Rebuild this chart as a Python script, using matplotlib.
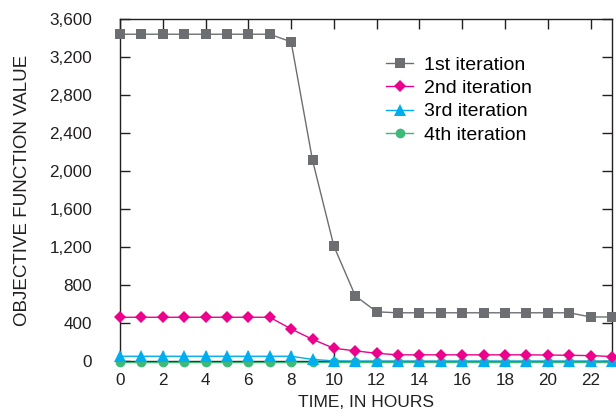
import matplotlib.pyplot as plt
import numpy as np

plt.rcParams["font.family"] = ["Liberation Sans", "DejaVu Sans"]

hours = np.arange(24)
iter1 = [3440, 3440, 3440, 3440, 3440, 3440, 3440, 3440, 3360, 2115, 1212, 690,
         522, 512, 512, 512, 512, 512, 512, 512, 512, 512, 468, 468]
iter2 = [465, 465, 465, 465, 465, 465, 465, 465, 342, 233, 139, 112,
         86, 70, 70, 70, 70, 70, 70, 70, 68, 65, 62, 52]
iter3 = [55, 55, 55, 55, 55, 55, 55, 55, 55, 22, 6, 4,
         4, 4, 4, 4, 4, 4, 4, 4, 4, 4, 4, 4]
iter4 = [-5] * 24
labels = ["1st iteration", "2nd iteration", "3rd iteration", "4th iteration"]

series = [iter1, iter2, iter3, iter4]
colors = ["#6d6e71", "#ec008c", "#00aeef", "#3dba78"]
markers = ["s", "D", "^", "o"]
msizes = [6.5, 6.5, 8, 7]
zorders = [6, 5, 4, 3]

fig = plt.figure(figsize=(6.16, 4.17), dpi=100)
ax = fig.add_axes([0.1948, 0.1331, 0.7987, 0.8213])

for y, c, m, ms, z, lab in zip(series, colors, markers, msizes, zorders, labels):
    ax.plot(hours, y, color=c, marker=m, markersize=ms, linewidth=1.0,
            label=lab, zorder=z, clip_on=False, markeredgewidth=0)

ax.set_xlim(0, 23)
ax.set_ylim(0, 3600)
ax.set_xticks(np.arange(0, 23, 2))
ax.set_yticks(np.arange(0, 3601, 400))
ax.set_yticklabels([f"{v:,}" for v in range(0, 3601, 400)])
ax.tick_params(axis="both", direction="in", length=7, width=1.0, color="#231f20",
               labelsize=12.3, labelcolor="#231f20", top=True, right=True)
ax.tick_params(axis="y", pad=20)
ax.tick_params(axis="x", pad=8)
for s in ax.spines.values():
    s.set_linewidth(1.0)
    s.set_color("#231f20")

ax.set_xlabel("TIME, IN HOURS", fontsize=12.5, color="#231f20", labelpad=5)
ax.set_ylabel("OBJECTIVE FUNCTION VALUE", fontsize=13.5, color="#231f20", labelpad=13)

ax.legend(loc="upper left", bbox_to_anchor=(386 / 616, 1 - 56 / 417),
          bbox_transform=fig.transFigure, frameon=False, fontsize=14,
          handlelength=1.4, handletextpad=0.55, labelspacing=0.3, borderpad=0,
          borderaxespad=0)

fig.savefig("out.png", dpi=100)
